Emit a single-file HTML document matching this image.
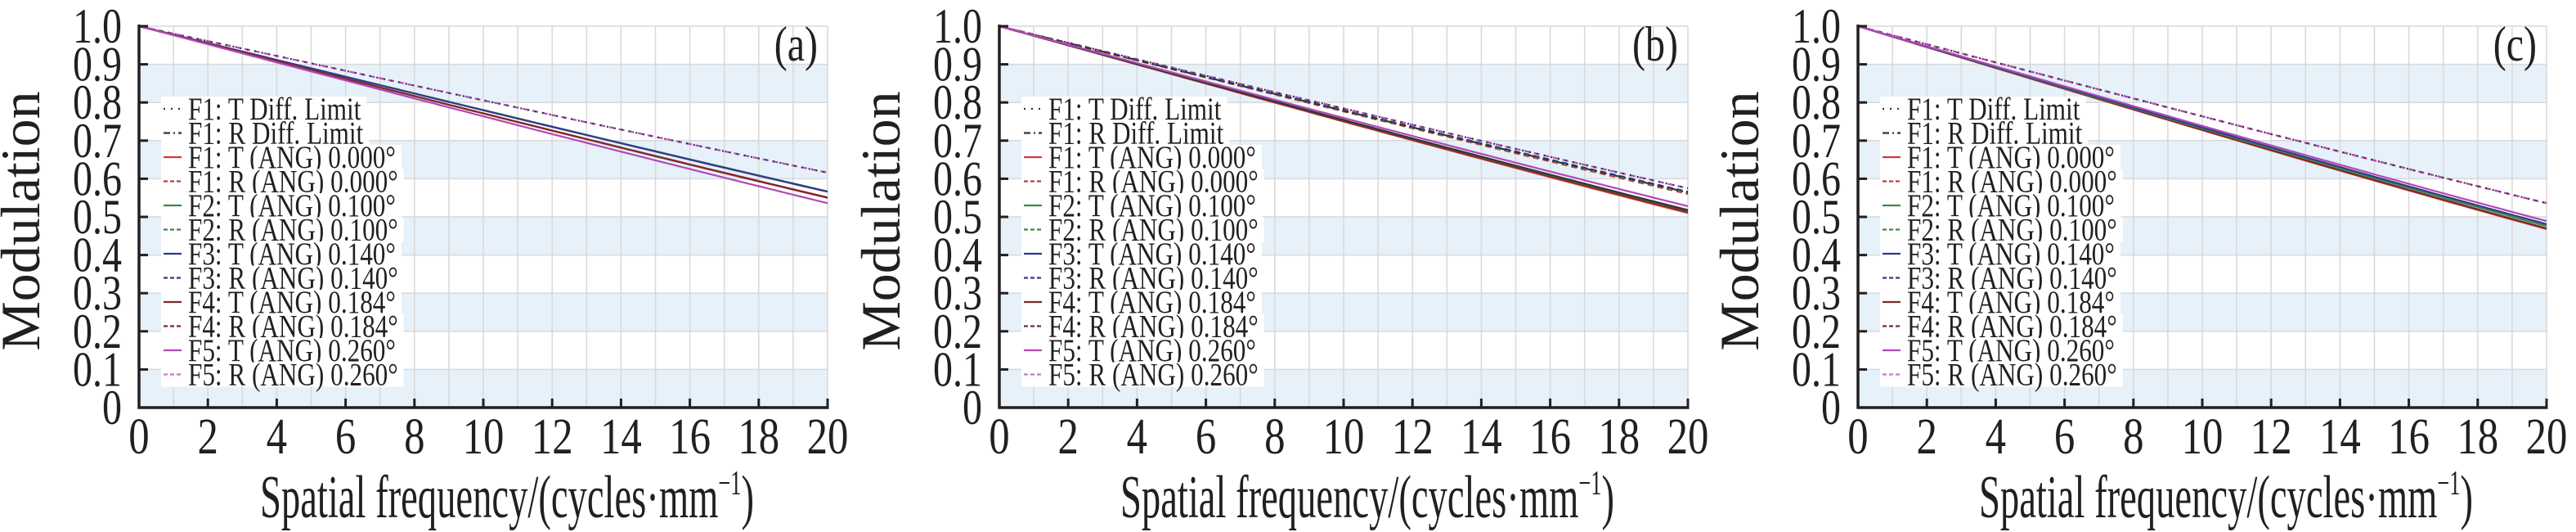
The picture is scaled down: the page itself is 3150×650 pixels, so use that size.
<!DOCTYPE html>
<html><head><meta charset="utf-8"><style>
html,body{margin:0;padding:0;background:#fff;}
svg{display:block;}
text{font-family:"Liberation Serif",serif;fill:#231f20;}
</style></head><body>
<svg id="s" width="3150" height="650" xmlns="http://www.w3.org/2000/svg"></svg>
<script>
const NS="http://www.w3.org/2000/svg";
const svg=document.getElementById('s');
function el(t,a,p){const e=document.createElementNS(NS,t);for(const k in a)e.setAttribute(k,a[k]);(p||svg).appendChild(e);return e;}
function sx(x,s){return `translate(${x},0) scale(${s},1) translate(${-x},0)`;}
function mtf(x){if(x>=1)return 0;return 2/Math.PI*(Math.acos(x)-x*Math.sqrt(1-x*x));}
function fcFor(v){let lo=20.01,hi=1000;for(let i=0;i<60;i++){const m=(lo+hi)/2;if(mtf(20/m)<v)lo=m;else hi=m;}return (lo+hi)/2;}
const colors={F1:'#d0393a',F2:'#3d8a45',F3:'#2e3a8c',F4:'#7a2a2a',F5:'#b348b8'};
const legend=[
 ['F1: T Diff. Limit','#333','2,7'],
 ['F1: R Diff. Limit','#333','8,4,2,4'],
 ['F1: T (ANG) 0.000°',colors.F1,''],
 ['F1: R (ANG) 0.000°','#b0453a','7,5'],
 ['F2: T (ANG) 0.100°',colors.F2,''],
 ['F2: R (ANG) 0.100°',colors.F2,'7,5'],
 ['F3: T (ANG) 0.140°',colors.F3,''],
 ['F3: R (ANG) 0.140°',colors.F3,'7,5'],
 ['F4: T (ANG) 0.184°',colors.F4,''],
 ['F4: R (ANG) 0.184°',colors.F4,'7,5'],
 ['F5: T (ANG) 0.260°',colors.F5,''],
 ['F5: R (ANG) 0.260°','#c878c8','7,5']];
const panels=[
 {x0:170,lab:'(a)',series:[
  [0.616,'#b348b8','7,5'],[0.616,'#333','2,7'],
  [0.567,colors.F2,''],[0.566,colors.F3,''],[0.551,colors.F1,''],[0.550,colors.F4,''],[0.536,colors.F5,'']]},
 {x0:1222,lab:'(b)',series:[
  [0.560,colors.F1,'7,5'],[0.563,colors.F2,'7,5'],[0.566,colors.F3,'7,5'],[0.575,'#b348b8','7,5'],[0.575,'#333','2,7'],[0.564,'#333','8,4,2,4'],
  [0.510,colors.F1,''],[0.513,colors.F4,''],[0.517,colors.F2,''],[0.518,'#333',''],[0.528,colors.F5,'']]},
 {x0:2272,lab:'(c)',series:[
  [0.536,colors.F1,'7,5'],[0.536,'#b348b8','7,5'],[0.536,'#333','2,7'],
  [0.468,colors.F1,''],[0.470,colors.F4,''],[0.476,colors.F2,''],[0.481,colors.F3,''],[0.489,colors.F5,'']]}
];
const W=842,Y0=498,Y1=32,H=Y0-Y1;
panels.forEach(p=>{
 const X=v=>p.x0+v/20*W, Yv=m=>Y0-m*H;
 for(let k=0;k<5;k++){el('rect',{x:p.x0,y:Yv(0.1+0.2*k),width:W,height:H*0.1,fill:'#e6f1fa'});}
 for(let i=1;i<=20;i++)el('line',{x1:X(i),x2:X(i),y1:Y1,y2:Y0,stroke:'#d8d8d8','stroke-width':1.5});
 for(let j=1;j<=10;j++)el('line',{x1:p.x0,x2:p.x0+W,y1:Yv(j/10),y2:Yv(j/10),stroke:'#d8d8d8','stroke-width':1.5});
 p.series.forEach(s=>{
  const fc=fcFor(s[0]);let d='';
  for(let i=0;i<=80;i++){const v=i/4;d+=(i?'L':'M')+X(v).toFixed(1)+' '+Yv(mtf(v/fc)).toFixed(1);}
  const a={d:d,fill:'none',stroke:s[1],'stroke-width':2.2};if(s[2])a['stroke-dasharray']=s[2];
  el('path',a);
 });
 legend.forEach((L,i)=>{
  const cy=133+i*29.5;
  const tx=p.x0+60;
  const t=el('text',{x:tx,y:cy+13,'font-size':39,transform:sx(tx,0.8)});t.textContent=L[0];
  const w=t.getComputedTextLength()*0.8;
  const r=el('rect',{x:p.x0+27,y:cy-15,width:w+40,height:30,fill:'#fff'});
  svg.insertBefore(r,t);
  const la={x1:p.x0+30,x2:p.x0+52,y1:cy,y2:cy,stroke:L[1],'stroke-width':2.2};if(L[2])la['stroke-dasharray']=L[2].replace('7,5','5,3');
  el('line',la);
 });
 el('line',{x1:p.x0,x2:p.x0,y1:Y1-2,y2:Y0+1.5,stroke:'#231f20','stroke-width':3.5});
 el('line',{x1:p.x0-1.5,x2:p.x0+W+1.5,y1:Y0,y2:Y0,stroke:'#231f20','stroke-width':3.5});
 el('line',{x1:p.x0+W,x2:p.x0+W,y1:Y0,y2:Y0-10,stroke:'#231f20','stroke-width':3});
 for(let j=0;j<=10;j++){el('line',{x1:p.x0,x2:p.x0+11,y1:Yv(j/10),y2:Yv(j/10),stroke:'#231f20','stroke-width':3});
  const lx=p.x0-21;
  const t=el('text',{x:lx,y:Yv(j/10)+20,'font-size':60,'text-anchor':'end',transform:sx(lx,0.8)});t.textContent=j==0?'0':j==10?'1.0':'0.'+j;}
 for(let i=0;i<=20;i+=2){el('line',{x1:X(i),x2:X(i),y1:Y0,y2:Y0-11,stroke:'#231f20','stroke-width':3});
  const t=el('text',{x:X(i),y:554,'font-size':62,'text-anchor':'middle',transform:sx(X(i),0.82)});t.textContent=i;}
 const lx2=p.x0+W-12;
 const lab=el('text',{x:lx2,y:74,'font-size':60,'text-anchor':'end',transform:sx(lx2,0.8)});lab.textContent=p.lab;
 const cx=p.x0+450;
 const tt=el('text',{x:cx,y:632,'font-size':74,'text-anchor':'middle',transform:sx(cx,0.63)});
 tt.innerHTML='Spatial frequency/(cycles·mm<tspan dy="-28" font-size="42">−1</tspan><tspan dy="28">)</tspan>';
 const yx=p.x0-122, yy=270;
 const yl=el('text',{x:yx,y:yy,'font-size':68,'text-anchor':'middle',transform:`rotate(-90 ${yx} ${yy})`});yl.textContent='Modulation';
});
</script>
</body></html>
